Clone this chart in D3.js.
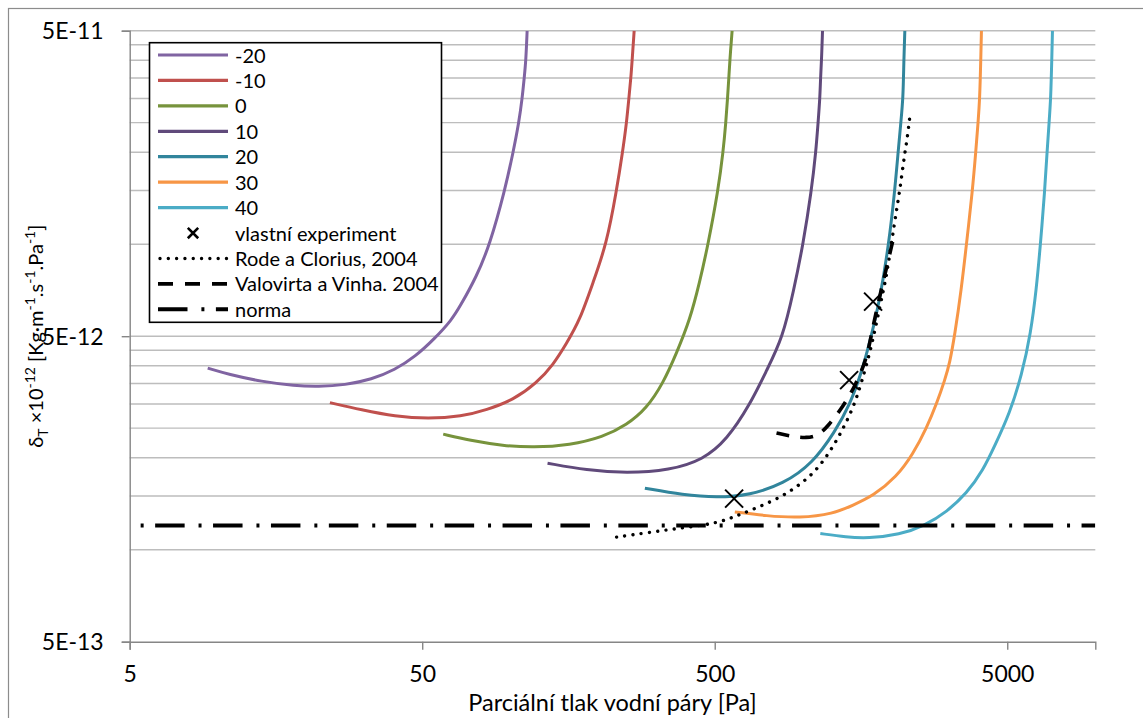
<!DOCTYPE html>
<html>
<head>
<meta charset="utf-8">
<script src="https://cdn.jsdelivr.net/npm/d3@7"></script>
<style>
  body { margin: 0; background: #fff; }
  svg text { font-family: Lato, "Open Sans", "DejaVu Sans", sans-serif; fill: #000; }
</style>
</head>
<body>
<svg id="chart" width="1143" height="718"></svg>
<script>
// Vapour permeability δT (×10^-12 kg·m^-1·s^-1·Pa^-1) against partial vapour pressure p [Pa]
// Each curve: [p, δT]
const seriesNames = ["-20", "-10", "0", "10", "20", "30", "40"];
const seriesColors = ["#8064A2", "#C0504D", "#77933C", "#604A7B", "#31859C", "#F79646", "#4BACC6"];

const tempM20 = [[9.24,3.93],[10.86,3.75],[14.13,3.55],[18.36,3.44],[22.06,3.42],[27.22,3.46],[33.59,3.61],[40.34,3.88],[47.22,4.28],[55.26,4.92],[63.02,5.65],[67.27,6.25],[76.7,7.83],[85.2,10],[95.8,15],[102.3,20],[107.0,25],[109.8,30],[111.6,35],[113.1,40],[114.2,50]];
const tempM10 = [[24.18,3.03],[31.03,2.87],[40.34,2.73],[52.42,2.68],[68.17,2.73],[83.0,2.87],[102.3,3.09],[123.0,3.51],[140.2,4.03],[155.8,4.74],[173.0,5.65],[191.6,7.47],[213.4,10],[230.9,15],[242.0,20],[249.8,25],[254.3,30],[258.4,35],[261.0,40],[265.2,50]];
const temp0 = [[58.99,2.39],[72.78,2.28],[94.6,2.19],[119.7,2.16],[159.9,2.20],[207.7,2.34],[249.8,2.56],[292.4,2.90],[333.2,3.51],[370.2,4.40],[411.1,5.65],[443.5,7.47],[474.7,10],[513.5,15],[534.1,20],[545.6,25],[553.0,30],[558.7,35],[563.1,40],[573.4,50]];
const temp10 = [[134.1,1.92],[182.4,1.82],[249.8,1.78],[351.2,1.82],[456.4,1.97],[550.1,2.29],[659.2,2.98],[753.7,3.88],[852.5,4.92],[931.7,7.08],[1002.5,10],[1071,15],[1108,20],[1128,25],[1144,30],[1150,35],[1159,40],[1168,50]];
const temp20 = [[288.5,1.59],[390.0,1.51],[507.2,1.48],[659.2,1.51],[856.6,1.64],[1082,1.92],[1287,2.43],[1448,2.98],[1591,3.82],[1708,4.93],[1834,6.57],[1968,10],[2063,15],[2118,20],[2163,25],[2203,30],[2215,40],[2233,50]];
const temp30 = [[585.6,1.33],[751.6,1.29],[976.8,1.27],[1270,1.31],[1486,1.40],[1739,1.50],[2091,1.73],[2383,2.06],[2648,2.50],[2872,3.02],[3058,3.59],[3181,4.09],[3308,5.05],[3481,7.08],[3627,10],[3803,15],[3902,20],[3974,25],[4027,30],[4059,40],[4081,50]];
const temp40 = [[1148,1.13],[1411,1.10],[1668,1.09],[2146,1.12],[2612,1.20],[3106,1.33],[3636,1.53],[4133,1.82],[4532,2.19],[5099,2.80],[5605,3.73],[6016,5.12],[6283,7.08],[6494,10],[6718,15],[6839,20],[6950,25],[7043,30],[7098,40],[7138,50]];

// vlastní experiment
const experiment = [[582.4,1.47],[1440,3.59],[1739,6.49]];
// Rode a Clorius, 2004
const rodeClorius = [[230.9,1.10],[300.1,1.14],[390.0,1.18],[507.2,1.22],[593.5,1.29],[694.8,1.37],[834.6,1.48],[976.8,1.63],[1114,1.82],[1237,2.09],[1356,2.43],[1486,2.91],[1587,3.51],[1718,4.62],[1834,6.25],[1932,7.83],[2010,10.1],[2091,12.9],[2146,15],[2233,20],[2272,21.9],[2318,25.8]];
// Valovirta a Vinha, 2004
const valovirtaVinha = [[813.2,2.41],[917.2,2.35],[1029.7,2.32],[1125.6,2.36],[1220.7,2.54],[1373,2.94],[1506,3.42],[1651,4.18],[1722,5.16],[1809,6.41],[1907,7.93],[2031,10.25]];
// norma
const norma = [[5.45,1.2],[10000,1.2]];

const xTicks = [5, 50, 500, 5000];
const yTicks = [0.5, 5, 50];           // ×10^-12
const xDomain = [5, 10000];
const yDomain = [0.5, 50];

const curves = [tempM20, tempM10, temp0, temp10, temp20, temp30, temp40];

const svg = d3.select("#chart");
const plot = { left: 129.7, right: 1095.3, top: 30.7, bottom: 641.7 };

const x = d3.scaleLog().domain(xDomain).range([plot.left, plot.right]);
const y = d3.scaleLog().domain(yDomain).range([plot.bottom, plot.top]);

// outer chart frame
svg.append("rect").attr("x", 8.5).attr("y", 8.5).attr("width", 1200).attr("height", 800)
  .attr("fill", "#fff").attr("stroke", "#8c8c8c").attr("stroke-width", 1.2);

// horizontal gridlines: 1..9 multiples of each decade start
const gridVals = [];
yTicks.slice(0, -1).forEach(s => { for (let k = 2; k <= 9; k++) gridVals.push(s * k); gridVals.push(s * 10); });
svg.append("g").selectAll("line").data(gridVals).join("line")
  .attr("x1", plot.left).attr("x2", plot.right)
  .attr("y1", d => y(d)).attr("y2", d => y(d))
  .attr("stroke", "#bdbdbd").attr("stroke-width", 1.4);

// axes
const fmtE = v => {
  const real = v * 1e-12;
  const e = Math.floor(Math.log10(real) + 1e-9);
  const m = Math.round(real / Math.pow(10, e));
  return m + "E" + e;
};
const yAxis = d3.axisLeft(y).tickValues(yTicks).tickFormat(fmtE).tickSize(8).tickPadding(18);
const xAxis = d3.axisBottom(x).tickValues(xTicks).tickFormat(d3.format("d")).tickSize(8).tickPadding(16);

const gy = svg.append("g").attr("transform", `translate(${plot.left},0)`).call(yAxis);
const gx = svg.append("g").attr("transform", `translate(0,${plot.bottom})`).call(xAxis);
[gx, gy].forEach(g => {
  g.select(".domain").attr("stroke", "#868686").attr("stroke-width", 1.4);
  g.selectAll(".tick line").attr("stroke", "#868686").attr("stroke-width", 1.4);
  g.selectAll(".tick text").attr("font-size", 23).attr("fill", "#000")
    .style("font-family", "Lato, 'Open Sans', sans-serif");
});
gy.selectAll(".tick text").attr("dy", "0.34em");
gx.selectAll(".tick text").attr("dy", "0.71em");

// clip to plot area
svg.append("clipPath").attr("id", "plotClip").append("rect")
  .attr("x", plot.left).attr("y", plot.top)
  .attr("width", plot.right - plot.left).attr("height", plot.bottom - plot.top);

const g = svg.append("g").attr("clip-path", "url(#plotClip)");
const line = d3.line().x(d => x(d[0])).y(d => y(d[1])).curve(d3.curveBasis);

curves.forEach((c, i) => {
  g.append("path").datum(c).attr("d", line)
    .attr("fill", "none").attr("stroke", seriesColors[i]).attr("stroke-width", 3)
    .attr("stroke-linejoin", "round");
});

// norma
g.append("path").datum(norma).attr("d", d3.line().x(d => x(d[0])).y(d => y(d[1])))
  .attr("fill", "none").attr("stroke", "#000").attr("stroke-width", 4)
  .attr("stroke-dasharray", "3,11.5,29.5,13.9");

// Rode a Clorius
g.append("path").datum(rodeClorius).attr("d", line)
  .attr("fill", "none").attr("stroke", "#000").attr("stroke-width", 3.4)
  .attr("stroke-dasharray", "0.01,8.3").attr("stroke-linecap", "round");

// Valovirta a Vinha
g.append("path").datum(valovirtaVinha).attr("d", line)
  .attr("fill", "none").attr("stroke", "#000").attr("stroke-width", 3.6)
  .attr("stroke-dasharray", "13,11");

// experiment crosses
const cross = (sel, s) => sel.append("path")
  .attr("d", `M${-s},${-s}L${s},${s}M${-s},${s}L${s},${-s}`);
g.selectAll("g.exp").data(experiment).join("g").attr("class", "exp")
  .attr("transform", d => `translate(${x(d[0])},${y(d[1])})`)
  .each(function () { cross(d3.select(this), 9).attr("stroke", "#000").attr("stroke-width", 2).attr("fill", "none"); });

// legend
const legendItems = seriesNames.map((n, i) => ({ label: n, type: "line", color: seriesColors[i] }))
  .concat([
    { label: "vlastní experiment", type: "cross" },
    { label: "Rode a Clorius, 2004", type: "dot" },
    { label: "Valovirta a Vinha. 2004", type: "dash" },
    { label: "norma", type: "dashdot" }
  ]);
const lg = svg.append("g");
lg.append("rect").attr("x", 149.5).attr("y", 42.7).attr("width", 292).attr("height", 279.6)
  .attr("fill", "#fff").attr("stroke", "#000").attr("stroke-width", 1.6);
const rowH = 25.43, row0 = 55;
legendItems.forEach((it, i) => {
  const cy = row0 + i * rowH;
  const r = lg.append("g").attr("transform", `translate(0,${cy})`);
  if (it.type === "line") {
    r.append("line").attr("x1", 158).attr("x2", 228).attr("stroke", it.color).attr("stroke-width", 3.2);
  } else if (it.type === "cross") {
    cross(r.append("g").attr("transform", "translate(193,0)"), 5.2).attr("stroke", "#000").attr("stroke-width", 2.6);
  } else if (it.type === "dot") {
    r.append("line").attr("x1", 160).attr("x2", 228).attr("stroke", "#000").attr("stroke-width", 3.4)
      .attr("stroke-dasharray", "0.01,8.3").attr("stroke-linecap", "round");
  } else if (it.type === "dash") {
    r.append("line").attr("x1", 158).attr("x2", 228).attr("stroke", "#000").attr("stroke-width", 3.6)
      .attr("stroke-dasharray", "15,12");
  } else {
    r.append("line").attr("x1", 158).attr("x2", 228).attr("stroke", "#000").attr("stroke-width", 4)
      .attr("stroke-dasharray", "29.5,13.9,3,11.5");
  }
  r.append("text").attr("x", 235).attr("y", 7.5).attr("font-size", 20).text(it.label);
});

// axis titles
svg.append("text").attr("x", (plot.left + plot.right) / 2).attr("y", 711)
  .attr("text-anchor", "middle").attr("font-size", 23.5).text("Parciální tlak vodní páry [Pa]");

const yt = svg.append("text").attr("transform", `translate(42.5,${(plot.top + plot.bottom) / 2}) rotate(-90)`)
  .attr("text-anchor", "middle").attr("font-size", 20);
const parts = [
  ["δ", 0], ["T", 1], [" ×10", 0], ["-12", 2], [" [Kg·m", 0], ["-1", 2], [".s", 0], ["-1", 2], [".Pa", 0], ["-1", 2], ["]", 0]
];
let shift = 0;
parts.forEach(([t, k]) => {
  const target = k === 1 ? 5 : k === 2 ? -8 : 0;
  const ts = yt.append("tspan").attr("dy", target - shift).text(t);
  if (k) ts.attr("font-size", 14);
  shift = target;
});
</script>
</body>
</html>
